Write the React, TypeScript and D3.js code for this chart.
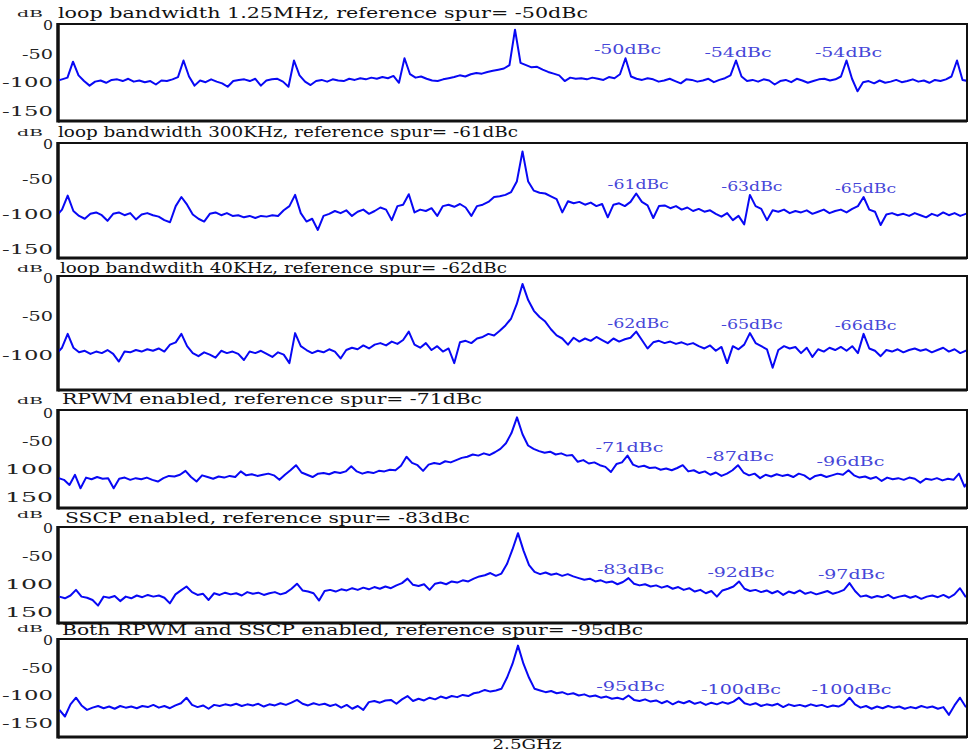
import React from "react";
import * as d3 from "d3";

const W = 968;
const H = 752;

// x axis: offset from the 2.5GHz carrier in multiples of the reference frequency
const freqStart = -4.15;
const freqStep = 0.05;

const titles = [
  "loop bandwidth 1.25MHz, reference spur= -50dBc",
  "loop bandwidth 300KHz, reference spur= -61dBc",
  "loop bandwdith 40KHz, reference spur= -62dBc",
  "RPWM enabled, reference spur= -71dBc",
  "SSCP enabled, reference spur= -83dBc",
  "Both RPWM and SSCP enabled, reference spur= -95dBc",
];

const tickValues = [0, -50, -100, -150];
const tickLabels = [
  ["0", "-50", "-100", "-150"],
  ["0", "-50", "-100", "-150"],
  ["0", "-50", "-100"],
  ["0", "-50", "100", "150"],
  ["0", "-50", "100", "150"],
  ["0", "-50", "-100", "-150"],
];

const spurOrders = [1, 2, 3];
const spurLabels = [
  ["-50dBc", "-54dBc", "-54dBc"],
  ["-61dBc", "-63dBc", "-65dBc"],
  ["-62dBc", "-65dBc", "-66dBc"],
  ["-71dBc", "-87dBc", "-96dBc"],
  ["-83dBc", "-92dBc", "-97dBc"],
  ["-95dBc", "-100dBc", "-100dBc"],
];

// spectra in dB
const loop1250k = [
  -100, -97, -94, -66, -90,
  -100, -108, -101, -99, -103, -98, -97, -100, -96, -101, -99, -102, -100, -106, -99, -100, -97, -93,
  -64, -92, -108,
  -99, -102, -97, -101, -104, -110, -100, -98, -97, -100, -96, -108, -99, -97, -96, -101, -110,
  -64, -90, -101,
  -107, -100, -98, -101, -97, -99, -100, -96, -98, -95, -97, -94, -96, -93, -95, -91, -103,
  -60, -88, -94,
  -92, -96, -99, -100, -97, -95, -93, -90, -92, -88, -86, -87, -84, -82, -80, -78, -72,
  -10, -68, -72,
  -76, -75, -80, -84, -87, -90, -100, -94, -96, -95, -97, -94, -96, -98, -93, -95, -88,
  -60, -92, -96,
  -98, -95, -97, -101, -99, -96, -100, -104, -97, -98, -101, -99, -96, -102, -98, -95, -90,
  -64, -92, -100,
  -98, -101, -97, -99, -106, -100, -98, -102, -96, -99, -103, -100, -97, -96, -99, -97, -92,
  -64, -96, -118,
  -102, -100, -104, -99, -103, -101, -98, -102, -100, -97, -101, -99, -103, -98, -100, -97, -92,
  -64, -98, -100,
];

const loop300k = [
  -105, -104, -95, -75, -97,
  -104, -108, -101, -99, -103, -111, -101, -99, -103, -100, -109, -102, -100, -103, -105, -110, -113, -90,
  -77, -88,
  -102, -108, -112, -101, -99, -103, -100, -104, -103, -106, -104, -107, -104, -105, -103, -104, -96, -90,
  -74, -100,
  -112, -108, -124, -104, -101, -97, -100, -96, -104, -98, -95, -101, -97, -92, -95, -110, -90, -88,
  -73, -99,
  -95, -97, -93, -104, -90, -88, -91, -87, -92, -104, -90, -88, -84, -77, -76, -74, -70, -55,
  -12, -55,
  -68, -71, -72, -76, -80, -99, -83, -86, -84, -88, -85, -90, -87, -106, -88, -86, -90, -84,
  -72, -84,
  -89, -107, -90, -89, -93, -90, -95, -92, -97, -94, -98, -96, -101, -105, -100, -110, -104, -116,
  -74, -90,
  -94, -110, -96, -98, -95, -100, -97, -99, -96, -101, -98, -95, -100, -97, -95, -99, -94, -90,
  -77, -95,
  -98, -117, -102, -100, -103, -101, -104, -100, -103, -106, -101, -104, -99, -103, -100, -104, -101, -103,
  -100, -102, -101,
];

const loop40k = [
  -101, -100, -92, -74, -92,
  -98, -96, -100, -97, -99, -95, -100, -110, -97, -98, -95, -97, -94, -96, -93, -97, -88, -85,
  -74, -90,
  -99, -103, -98, -101, -105, -96, -99, -97, -100, -108, -97, -99, -96, -100, -104, -98, -101, -112,
  -73, -90,
  -95, -99, -96, -98, -94, -97, -106, -95, -92, -94, -89, -93, -88, -86, -89, -84, -87, -82,
  -71, -88,
  -92, -86, -95, -90, -97, -93, -112, -85, -83, -86, -80, -78, -74, -76, -70, -63, -54, -35,
  -9, -30,
  -44, -52, -58, -68, -76, -80, -88, -79, -84, -80, -83, -78, -82, -86, -80, -84, -81, -79,
  -71, -82,
  -93, -85, -83, -86, -84, -87, -85, -88, -86, -90, -93, -89, -96, -91, -112, -90, -94, -88,
  -73, -86,
  -90, -94, -118, -95, -90, -93, -91, -99, -92, -104, -94, -97, -92, -95, -91, -96, -90, -99,
  -74, -93,
  -96, -103, -95, -97, -94, -98, -95, -93, -96, -94, -98, -95, -92, -97, -94, -99, -96, -98,
  -95, -97, -96,
];

const rpwmOn = [
  -118, -121, -130, -112, -136,
  -117, -120, -116, -119, -118, -136, -119, -117, -121, -118, -120, -117, -121, -124, -118, -114, -115, -112,
  -105, -116,
  -124, -113, -116, -119, -115, -117, -114, -116, -106, -113, -111, -114, -112, -110, -113, -121, -112, -104,
  -95, -108,
  -112, -116, -110, -109, -111, -107, -109, -106, -97, -106, -110, -107, -109, -105, -106, -103, -104, -96,
  -80, -91,
  -95, -105, -94, -91, -93, -88, -90, -86, -82, -80, -76, -78, -74, -77, -72, -66, -56, -38,
  -10, -40,
  -60, -66, -70, -73, -71, -76, -74, -78, -77, -89, -86, -92, -90, -95, -98, -107, -93, -90,
  -78, -94,
  -98, -96, -100, -99, -103, -101, -104, -100, -95, -106, -104, -109, -106, -112, -108, -114, -110, -104,
  -95, -108,
  -113, -110, -118, -112, -115, -111, -114, -112, -116, -110, -113, -120, -114, -112, -116, -113, -110, -112,
  -104, -113,
  -117, -115, -119, -116, -123, -117, -120, -118, -121, -117, -119, -126, -119, -121, -118, -122, -119, -121,
  -110, -133, -120,
];

const sscpOn = [
  -124, -127, -122, -112, -124,
  -126, -130, -140, -124, -126, -123, -132, -124, -127, -122, -125, -121, -124, -122, -126, -136, -120, -113,
  -106, -116,
  -121, -119, -130, -118, -121, -117, -120, -118, -122, -116, -119, -117, -121, -118, -116, -120, -117, -110,
  -101, -113,
  -115, -118, -131, -114, -112, -115, -111, -113, -109, -112, -108, -111, -107, -110, -106, -109, -104, -100,
  -92, -103,
  -105, -102, -112, -101, -99, -102, -97, -99, -95, -97, -92, -88, -86, -82, -87, -83, -66, -40,
  -11, -42,
  -68, -80, -84, -81, -85, -83, -87, -84, -88, -91, -94, -92, -97, -95, -99, -97, -102, -98,
  -91, -101,
  -104, -102, -106, -104, -108, -105, -110, -107, -112, -109, -115, -112, -118, -114, -124, -113, -110, -106,
  -97, -110,
  -114, -112, -116, -113, -118, -114, -121, -115, -118, -113, -119, -116, -120, -117, -114, -119, -116, -112,
  -100, -114,
  -124, -122, -126, -123, -125, -121, -127, -124, -122, -126, -123, -128, -124, -122, -125, -121, -126, -120,
  -109, -124, -122,
];

const rpwmSscpOn = [
  -128, -140, -118, -106, -120,
  -128, -124, -121, -125, -122, -126, -121, -124, -122, -125, -121, -123, -119, -124, -121, -125, -120, -116,
  -106, -119,
  -123, -120, -126, -119, -121, -118, -120, -117, -121, -118, -120, -117, -122, -118, -120, -116, -119, -115,
  -110, -117,
  -120, -116, -119, -117, -121, -118, -124, -119, -126, -121, -128, -114, -112, -115, -111, -110, -117, -109,
  -103, -112,
  -108, -111, -106, -109, -104, -107, -103, -105, -101, -103, -98, -96, -92, -95, -93, -90, -70, -45,
  -12, -45,
  -70, -90, -93, -96, -94, -98, -96, -100, -98, -102, -100, -104, -102, -106, -104, -108, -106, -109,
  -102, -110,
  -112, -109, -113, -111, -116, -112, -118, -113, -116, -112, -117, -114, -119, -115, -118, -114, -117, -113,
  -106, -116,
  -119, -116, -121, -118, -120, -117, -123, -118, -121, -119, -122, -118, -121, -119, -123, -120, -122, -117,
  -106, -118,
  -124, -121, -126, -122, -125, -121, -124, -122, -126, -123, -125, -121, -124, -122, -126, -123, -137, -120,
  -106, -122, -124,
];

const traces = [loop1250k, loop300k, loop40k, rpwmOn, sscpOn, rpwmSscpOn];

// panel placement in pixels, matched to the reference picture
const panels = [
  { top: 24, bottom: 121, dbLo: -170, dbHi: 0, carrierX: 515, unitPx: 110.5, titleX: 58, titleY: 18, titleW: 530, dbY: 17, charW: 11.2 },
  { top: 143, bottom: 258, dbLo: -164, dbHi: 0, carrierX: 522.5, unitPx: 113.7, titleX: 58, titleY: 137, titleW: 460, dbY: 136, charW: 10.2 },
  { top: 276, bottom: 390, dbLo: -147, dbHi: 1.3, carrierX: 522.5, unitPx: 113.7, titleX: 60, titleY: 273, titleW: 447, dbY: 272, charW: 10.3 },
  { top: 410, bottom: 508, dbLo: -171, dbHi: 3, carrierX: 517, unitPx: 110.5, titleX: 62, titleY: 404, titleW: 420, dbY: 404, charW: 11.3 },
  { top: 527, bottom: 623, dbLo: -171, dbHi: 0, carrierX: 518, unitPx: 110.5, titleX: 65, titleY: 523, titleW: 405, dbY: 518, charW: 11.2 },
  { top: 639, bottom: 737, dbLo: -177, dbHi: 0, carrierX: 518, unitPx: 110.5, titleX: 62, titleY: 635, titleW: 581, dbY: 632, charW: 11.4 },
];

const frameLeft = 58;
const frameRight = 967;
const tickWidths: Record<string, number> = { "0": 10, "-50": 31, "-100": 51, "-150": 51, "100": 48, "150": 48 };
const serif = "DejaVu Serif";

const Panel = ({ idx }: { idx: number }) => {
  const p = panels[idx];
  const data = traces[idx];
  const x = d3
    .scaleLinear()
    .domain([-4, 4])
    .range([p.carrierX - 4 * p.unitPx, p.carrierX + 4 * p.unitPx]);
  const y = d3.scaleLinear().domain([p.dbLo, p.dbHi]).range([p.bottom, p.top]);
  const line = d3
    .line<number>()
    .x((_, i) => x(freqStart + i * freqStep))
    .y((d) => y(d));
  const clipId = `clip-${idx}`;

  // label sits just above the spur peak
  const spurIdx = (k: number) => Math.round((k - freqStart) / freqStep);
  const peak = (k: number) => d3.max(data.slice(spurIdx(k) - 1, spurIdx(k) + 2)) as number;

  return (
    <g>
      <defs>
        <clipPath id={clipId}>
          <rect x={frameLeft + 1} y={p.top + 1} width={frameRight - frameLeft - 2} height={p.bottom - p.top - 2} />
        </clipPath>
      </defs>
      <rect x={frameLeft} y={p.top} width={frameRight - frameLeft} height={p.bottom - p.top} fill="#fff" stroke="#111" strokeWidth={2} />
      <line x1={frameLeft} x2={frameLeft} y1={p.top - 1} y2={p.bottom + 1.5} stroke="#111" strokeWidth={3.5} />
      <line x1={frameLeft} x2={frameRight} y1={p.bottom} y2={p.bottom} stroke="#111" strokeWidth={3} />

      <path d={line(data) || ""} fill="none" stroke="#0808f4" strokeWidth={2} strokeLinejoin="round" clipPath={`url(#${clipId})`} />

      <text x={17} y={p.dbY} fontFamily={serif} fontSize={10} textLength={26} lengthAdjust="spacingAndGlyphs" fill="#222">
        dB
      </text>
      <text x={p.titleX} y={p.titleY} fontFamily={serif} fontSize={14} textLength={p.titleW} lengthAdjust="spacingAndGlyphs" fill="#111">
        {titles[idx]}
      </text>

      {tickLabels[idx].map((t, j) => (
        <text
          key={t + j}
          x={53}
          y={y(tickValues[j]) + 1.5}
          textAnchor="end"
          dominantBaseline="central"
          fontFamily={serif}
          fontSize={13}
          textLength={tickWidths[t]}
          lengthAdjust="spacingAndGlyphs"
          fill="#222"
        >
          {t}
        </text>
      ))}

      {spurOrders.map((k, j) => (
        <text
          key={k}
          x={x(k) + 2}
          y={y(peak(k)) - 4}
          textAnchor="middle"
          fontFamily={serif}
          fontSize={13}
          textLength={spurLabels[idx][j].length * p.charW}
          lengthAdjust="spacingAndGlyphs"
          fill="#4646d8"
        >
          {spurLabels[idx][j]}
        </text>
      ))}
    </g>
  );
};

export default function App() {
  const last = panels[panels.length - 1];
  return (
    <svg width={W} height={H} style={{ position: "absolute", left: 0, top: 0, background: "#fff" }}>
      {panels.map((_, i) => (
        <Panel key={i} idx={i} />
      ))}
      <text x={last.carrierX + 9} y={749} textAnchor="middle" fontFamily={serif} fontSize={13} textLength={69} lengthAdjust="spacingAndGlyphs" fill="#111">
        2.5GHz
      </text>
    </svg>
  );
}
